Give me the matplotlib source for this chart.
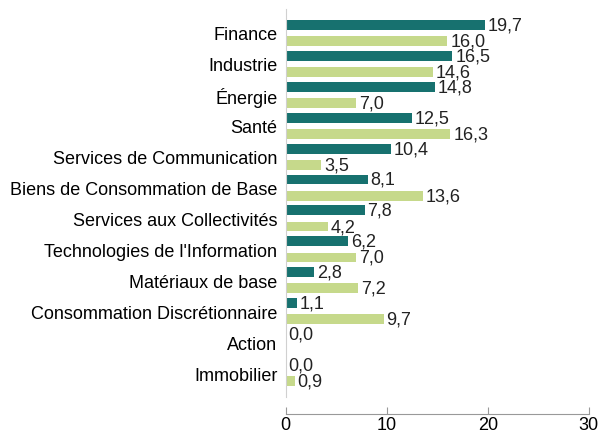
"""Horizontal paired bar chart of sector contributions."""

import matplotlib.pyplot as plt
import numpy as np

plt.rcParams["font.family"] = ["Liberation Sans", "DejaVu Sans"]

categories = [
    "Finance",
    "Industrie",
    "Énergie",
    "Santé",
    "Services de Communication",
    "Biens de Consommation de Base",
    "Services aux Collectivités",
    "Technologies de l'Information",
    "Matériaux de base",
    "Consommation Discrétionnaire",
    "Action",
    "Immobilier",
]
series_dark = [19.7, 16.5, 14.8, 12.5, 10.4, 8.1, 7.8, 6.2, 2.8, 1.1, 0.0, 0.0]
series_light = [16.0, 14.6, 7.0, 16.3, 3.5, 13.6, 4.2, 7.0, 7.2, 9.7, np.nan, 0.9]
x_ticks = [0, 10, 20, 30]

DARK = "#17716F"
LIGHT = "#C6D98B"
FS = 13

fig = plt.figure(figsize=(5.99, 4.35), dpi=100)
ax = fig.add_axes([0.477, 0.085, 0.506, 0.892])

for side in ["top", "right"]:
    ax.spines[side].set_visible(False)
ax.spines["left"].set_color("#D0D0D0")
ax.spines["bottom"].set_color("#999999")
ax.spines["bottom"].set_position(("outward", 12))

y = np.arange(len(categories))
offset = 0.26
height = 0.32

ax.barh(y - offset, series_dark, height=height, color=DARK)
light_vals = np.array(series_light, dtype=float)
mask = ~np.isnan(light_vals)
ax.barh(y[mask] + offset, light_vals[mask], height=height, color=LIGHT)


def fmt(v):
    return f"{v:.1f}".replace(".", ",")


for yi, v in zip(y, series_dark):
    ax.annotate(fmt(v), (v, yi - offset), xytext=(2, 0), textcoords="offset points",
                va="center", ha="left", fontsize=FS, color="#222222")
for yi, v in zip(y, series_light):
    if np.isnan(v):
        continue
    ax.annotate(fmt(v), (v, yi + offset), xytext=(2, 0), textcoords="offset points",
                va="center", ha="left", fontsize=FS, color="#222222")

ax.set_yticks(y)
ax.set_yticklabels(categories, fontsize=FS)
ax.tick_params(axis="y", length=0, pad=6)
ax.set_ylim(len(categories) - 1 + 0.77, -0.77)

ax.set_xlim(0, 30)
ax.set_xticks(x_ticks)
ax.set_xticklabels([str(t) for t in x_ticks])
ax.tick_params(axis="x", direction="in", length=5, color="#999999", pad=2, labelsize=FS)

fig.savefig("out.png", dpi=100)
